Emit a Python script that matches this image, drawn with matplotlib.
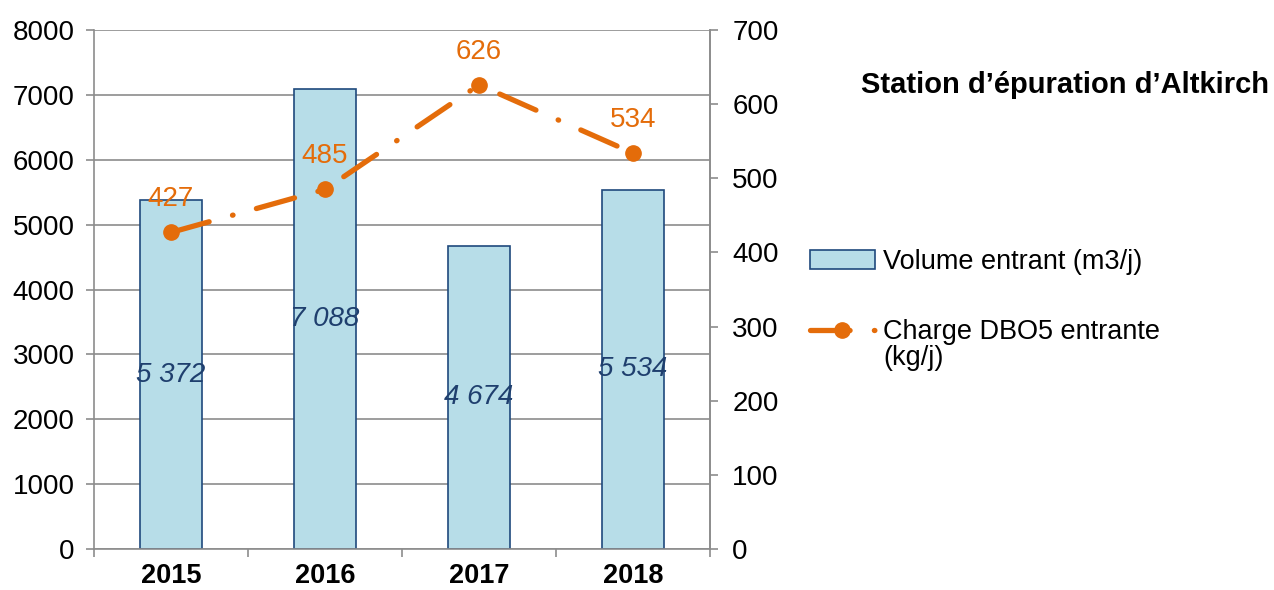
import matplotlib.pyplot as plt
from matplotlib.lines import Line2D
import numpy as np

plt.rcParams['font.family'] = ['Liberation Sans', 'DejaVu Sans']

years = ['2015', '2016', '2017', '2018']
volume = [5372, 7088, 4674, 5534]
volume_labels = ['5 372', '7 088', '4 674', '5 534']
charge = [427, 485, 626, 534]

bar_fill = '#B7DDE8'
bar_edge = '#1F497D'
orange = '#E46C0A'
grid_col = '#8C8C8C'
fs = 20
pattern = (7.5, 4.6, 0.1, 4.6)
# phase of the dash pattern for each segment (in line widths)
seg_offsets = [0, 12.5, 12.5]

fig = plt.figure(figsize=(12.74, 5.90), dpi=100)
ax = fig.add_axes([94 / 1274, 1 - 549 / 590, 616 / 1274, 519 / 590])
ax2 = ax.twinx()

x = np.arange(len(years))
bars = ax.bar(x, volume, width=0.4, color=bar_fill, edgecolor=bar_edge, linewidth=1.2,
              label='Volume entrant (m3/j)', zorder=2)
for xi, v, lab in zip(x, volume, volume_labels):
    ax.text(xi, v / 2, lab, ha='center', va='center', fontsize=fs, style='italic',
            color='#1F3F6E', zorder=3)

ax.set_xlim(-0.5, len(years) - 0.5)
ax.set_ylim(0, 8000)
ax.set_yticks(np.arange(0, 8001, 1000))
ax.yaxis.grid(True, color=grid_col, linewidth=1.2, zorder=0)
ax.set_axisbelow(True)
ax.set_xticks(x)
ax.set_xticklabels(years, fontsize=19.5, fontweight='bold')
ax.set_xticks(np.arange(-0.5, len(years)), minor=True)
ax.tick_params(axis='x', which='major', length=0, pad=10)
ax.tick_params(axis='x', which='minor', length=6, color=grid_col, width=1.2)
ax.tick_params(axis='y', labelsize=fs, length=6, color=grid_col, width=1.2, pad=8)
ax.spines['top'].set_visible(False)
for s in ['left', 'bottom', 'right']:
    ax.spines[s].set_color(grid_col)
    ax.spines[s].set_linewidth(1.2)

for i, off in enumerate(seg_offsets):
    ax2.plot(x[i:i + 2], charge[i:i + 2], color=orange, linewidth=3.8, linestyle=(off, pattern),
             dash_capstyle='round', zorder=4)
ax2.plot(x, charge, linestyle='none', marker='o', markersize=11, color=orange, zorder=5)
for xi, c in zip(x, charge):
    ax2.text(xi, c + 45, str(c), ha='center', va='center', fontsize=fs, color=orange)
ax2.set_ylim(0, 700)
ax2.set_yticks(np.arange(0, 701, 100))
ax2.tick_params(axis='y', labelsize=fs, length=6, color=grid_col, width=1.2, pad=10)
for s in ['top', 'left', 'bottom']:
    ax2.spines[s].set_visible(False)
ax2.spines['right'].set_color(grid_col)
ax2.spines['right'].set_linewidth(1.2)

fig.text(1065 / 1274, 1 - 85 / 590, "Station d\u2019épuration d\u2019Altkirch", ha='center',
         va='center', fontsize=21, fontweight='bold')

line_handle = Line2D([], [], color=orange, linewidth=3.8, linestyle=(0, pattern),
                     dash_capstyle='round', marker='o', markersize=11, label='Charge DBO5 entrante')
fig.legend(handles=[bars, line_handle], loc='upper left', bbox_to_anchor=(796 / 1274, 1 - 235 / 590),
           frameon=False, fontsize=19.5, handlelength=2.4, labelspacing=1.65, handletextpad=0.3,
           borderpad=0)
fig.text(883 / 1274, 1 - 358 / 590, '(kg/j)', ha='left', va='center', fontsize=19.5)

fig.savefig('out.png', dpi=100)
